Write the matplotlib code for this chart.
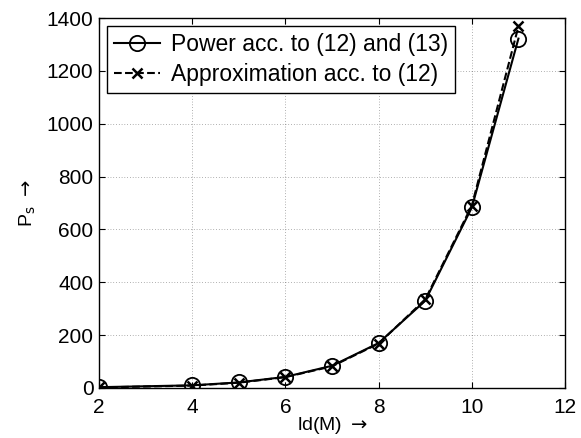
import numpy as np
import matplotlib.pyplot as plt

plt.rcParams['font.family'] = ['Liberation Sans', 'DejaVu Sans']

# ld(M) values and transmit power from both models
ld_m = [2, 4, 5, 6, 7, 8, 9, 10, 11]
power_exact = [3, 10, 21, 42, 84, 170, 330, 683, 1322]
power_approx = [2, 9, 20, 41, 82, 168, 335, 690, 1368]

fig = plt.figure(figsize=(5.81, 4.38), dpi=100)
ax = fig.add_axes([0.1704, 0.1142, 0.8021, 0.8447])

ax.plot(ld_m, power_exact, '-', color='black', lw=1.5, marker='o', ms=11,
        mfc='none', mew=1.3, label='Power acc. to (12) and (13)')
ax.plot(ld_m, power_approx, '--', color='black', lw=1.5, marker='x', ms=7,
        mew=1.8, label='Approximation acc. to (12)')

ax.set_xlim(2, 12)
ax.set_ylim(0, 1400)
ax.set_xticks(np.arange(2, 13, 2))
ax.set_yticks(np.arange(0, 1401, 200))
ax.tick_params(direction='in', labelsize=15, length=4, top=True, right=True)
ax.tick_params(axis='x', pad=7)
ax.tick_params(axis='y', pad=4)
ax.grid(True, linestyle=(0, (1, 3)), color='black', lw=0.5, alpha=0.6)
for s in ax.spines.values():
    s.set_linewidth(1.0)

ax.set_xlabel(r'ld(M) $\rightarrow$', fontsize=14, labelpad=-1)
ax.set_ylabel(r'P$_\mathrm{s}$ $\rightarrow$', fontsize=14, labelpad=6)

leg = ax.legend(loc='upper left', fontsize=16.5, fancybox=False, framealpha=1,
                edgecolor='black', handlelength=2.0, borderaxespad=0.35,
                handletextpad=0.5, borderpad=0.3, labelspacing=0.3)
leg.get_frame().set_linewidth(1.0)

fig.savefig('out.png', dpi=100)
